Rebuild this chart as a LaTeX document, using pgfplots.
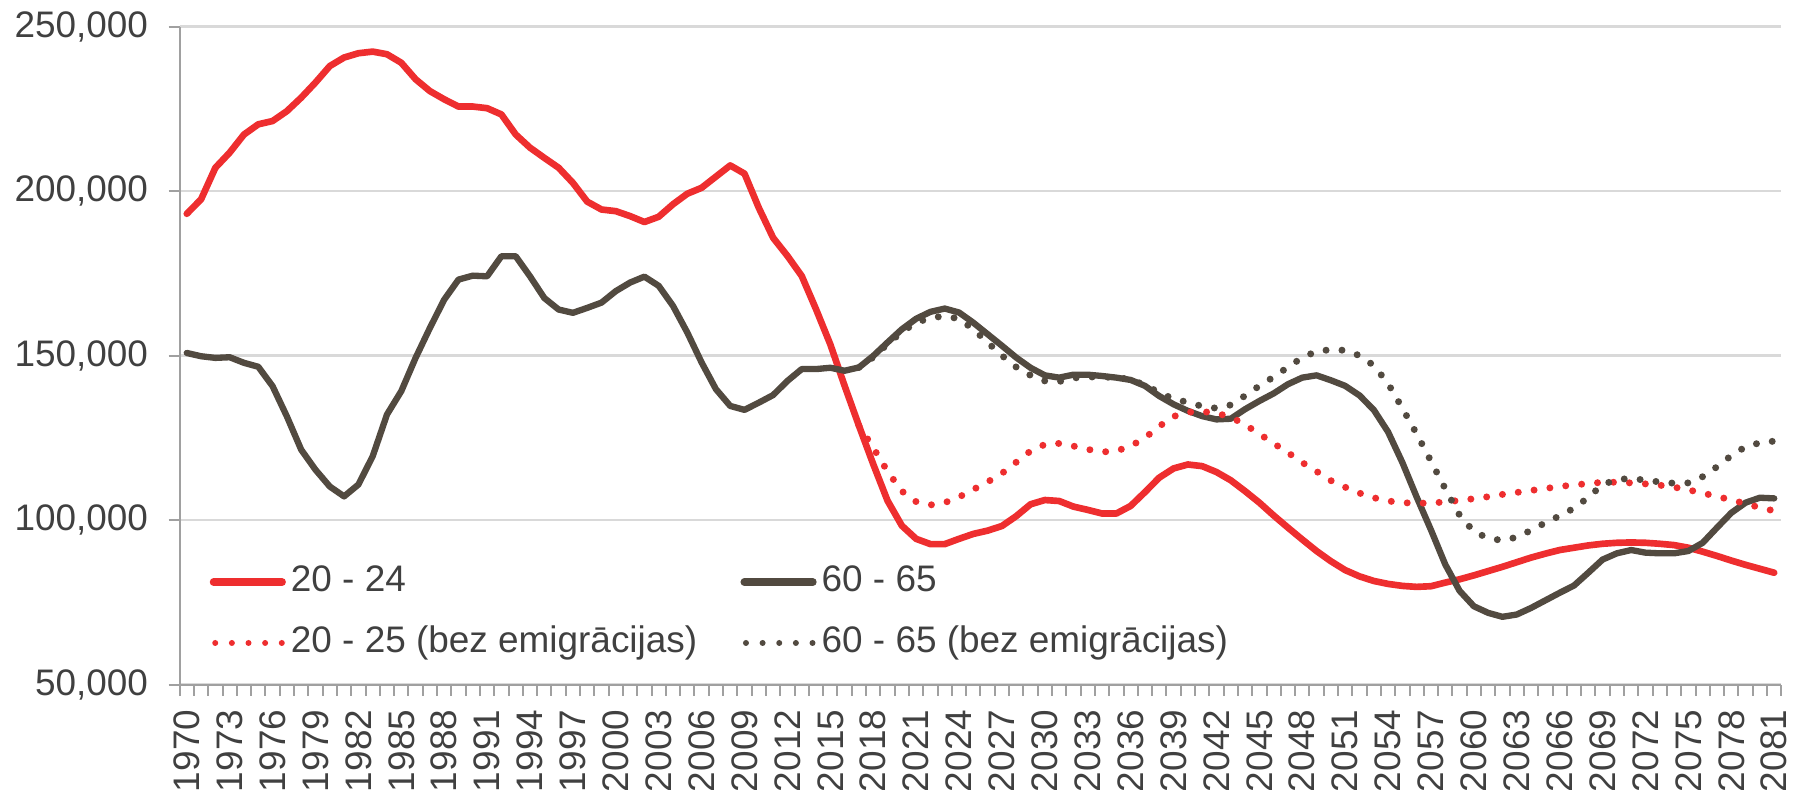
\documentclass[border=0pt]{standalone}
\usepackage{pgfplots}
\pgfplotsset{compat=1.18}
\usepackage{fontspec}
\setmainfont{Liberation Sans}
\definecolor{cred}{RGB}{238,46,47}
\definecolor{cdark}{RGB}{82,74,64}
\definecolor{cgrid}{RGB}{217,217,217}
\definecolor{caxis}{RGB}{160,160,160}
\definecolor{ctext}{RGB}{64,64,64}
\newcommand{\lblfont}{\fontsize{11.1}{13}\selectfont}
\begin{document}
\begin{tikzpicture}
\begin{axis}[
  at={(0,0)}, anchor=south west,
  scale only axis, width=481.5pt, height=197.8pt,
  xmin=1969.5, xmax=2081.5, ymin=50000, ymax=250000,
  axis x line*=bottom, axis y line*=left,
  axis line style={caxis, line width=0.6pt, -},
  tick align=outside,
  major tick length=3.3pt,
  tick style={caxis, line width=0.6pt},
  xtick={1969.5,1970.5,...,2081.5},
  xticklabels={},
  extra x ticks={1970,1973,...,2081},
  extra x tick style={major tick length=0pt},
  ytick={50000,100000,...,250000},
  scaled y ticks=false,
  ymajorgrids, grid style={cgrid, line width=0.75pt},
  /pgf/number format/assume math mode=true,
  tick label style={font=\lblfont, text=ctext, inner sep=0pt},
  xticklabel style={rotate=90, anchor=east, /pgf/number format/1000 sep={}},
  yticklabel style={anchor=east, /pgf/number format/1000 sep={,}, /pgf/number format/fixed},
  xticklabel shift=7.4pt,
  yticklabel shift=6pt,
  legend columns=2,
  legend cell align=left,
  legend style={draw=none, fill=none, inner sep=0pt, font=\lblfont, text=ctext,
    at={(axis cs:1971.56,71900)}, anchor=west,
    nodes={inner sep=0pt, text height=8pt, text depth=2.5pt},
    /tikz/every even column/.append style={column sep=13pt},
    /tikz/every odd column/.append style={column sep=1.5pt},
    row sep=7.8pt},
  legend image code/.code={\draw[#1, line width=2.3pt] (0pt,0pt) -- (20.6pt,0pt);},
  solid/.style={line width=2pt, line join=round, line cap=round},
  dots/.style={line width=2.1pt, line cap=round, dash pattern=on 0pt off 4.8pt},
  dotleg/.style={legend image code/.code={\draw[##1, line width=1.8pt, dash pattern=on 0pt off 5pt] (0.5pt,0pt) -- (20.6pt,0pt);}},
]
\addplot[cred, solid] coordinates {
(1970,193100)(1971,197500)(1972,207100)(1973,211700)(1974,217200)(1975,220300)
(1976,221300)(1977,224300)(1978,228400)(1979,233000)(1980,238000)(1981,240600)
(1982,241900)(1983,242400)(1984,241600)(1985,239000)(1986,234000)(1987,230400)
(1988,227900)(1989,225700)(1990,225700)(1991,225200)(1992,223300)(1993,217200)
(1994,213200)(1995,210100)(1996,207100)(1997,202500)(1998,196800)(1999,194400)
(2000,193900)(2001,192400)(2002,190600)(2003,192200)(2004,196000)(2005,199200)
(2006,201000)(2007,204400)(2008,207800)(2009,205300)(2010,194900)(2011,185800)
(2012,180300)(2013,174200)(2014,164100)(2015,153400)(2016,140800)(2017,128700)
(2018,117000)(2019,105900)(2020,98300)(2021,94300)(2022,92700)(2023,92700)
(2024,94300)(2025,95800)(2026,96800)(2027,98200)(2028,101200)(2029,104800)
(2030,106100)(2031,105800)(2032,104100)(2033,103100)(2034,102000)(2035,102000)
(2036,104300)(2037,108500)(2038,112900)(2039,115700)(2040,116900)(2041,116400)
(2042,114600)(2043,112100)(2044,108800)(2045,105300)(2046,101400)(2047,97700)
(2048,94100)(2049,90600)(2050,87500)(2051,84800)(2052,82900)(2053,81500)
(2054,80600)(2055,80000)(2056,79700)(2057,79900)(2058,81000)(2059,82000)
(2060,83200)(2061,84500)(2062,85800)(2063,87200)(2064,88600)(2065,89800)
(2066,90900)(2067,91600)(2068,92300)(2069,92800)(2070,93100)(2071,93200)
(2072,93100)(2073,92800)(2074,92400)(2075,91600)(2076,90400)(2077,89100)
(2078,87700)(2079,86400)(2080,85200)(2081,84000)
};
\addlegendentry{20 - 24}
\addplot[cdark, solid, line width=1.9pt] coordinates {
(1970,150800)(1971,149800)(1972,149300)(1973,149500)(1974,147800)(1975,146600)
(1976,140700)(1977,131500)(1978,121400)(1979,115300)(1980,110200)(1981,107200)
(1982,110800)(1983,119400)(1984,132100)(1985,139200)(1986,149300)(1987,158400)
(1988,167000)(1989,173100)(1990,174300)(1991,174100)(1992,180200)(1993,180200)
(1994,174100)(1995,167500)(1996,164000)(1997,163000)(1998,164500)(1999,166100)
(2000,169600)(2001,172200)(2002,174000)(2003,171200)(2004,165100)(2005,157000)
(2006,147900)(2007,139800)(2008,134700)(2009,133500)(2010,135700)(2011,138000)
(2012,142300)(2013,145900)(2014,145900)(2015,146300)(2016,145400)(2017,146400)
(2018,149900)(2019,154000)(2020,158000)(2021,161200)(2022,163300)(2023,164300)
(2024,163100)(2025,160000)(2026,156500)(2027,153000)(2028,149400)(2029,146300)
(2030,144000)(2031,143300)(2032,144200)(2033,144200)(2034,143800)(2035,143300)
(2036,142600)(2037,140800)(2038,137700)(2039,135200)(2040,133200)(2041,131600)
(2042,130600)(2043,130800)(2044,133700)(2045,136200)(2046,138500)(2047,141300)
(2048,143300)(2049,144000)(2050,142500)(2051,140800)(2052,137900)(2053,133500)
(2054,126800)(2055,117500)(2056,107000)(2057,97000)(2058,86500)(2059,78500)
(2060,73800)(2061,71800)(2062,70600)(2063,71300)(2064,73300)(2065,75600)
(2066,77900)(2067,80100)(2068,84000)(2069,88000)(2070,89900)(2071,90900)
(2072,90100)(2073,89900)(2074,89900)(2075,90600)(2076,93100)(2077,97700)
(2078,102200)(2079,105300)(2080,106800)(2081,106600)
};
\addlegendentry{60 - 65}
\addplot[cred, dots, dotleg] coordinates {
(2017,128700)(2018,122000)(2019,114800)(2020,108800)(2021,105600)(2022,104600)
(2023,105300)(2024,107000)(2025,109300)(2026,111600)(2027,114200)(2028,117600)
(2029,121000)(2030,123000)(2031,123300)(2032,122500)(2033,121500)(2034,120700)
(2035,121000)(2036,122500)(2037,125000)(2038,128500)(2039,131500)(2040,132800)
(2041,133000)(2042,132500)(2043,131300)(2044,129000)(2045,126200)(2046,123300)
(2047,120500)(2048,117500)(2049,114800)(2050,112000)(2051,110000)(2052,108200)
(2053,106800)(2054,105800)(2055,105300)(2056,105100)(2057,105200)(2058,105500)
(2059,106000)(2060,106500)(2061,107100)(2062,107800)(2063,108400)(2064,109000)
(2065,109600)(2066,110200)(2067,110700)(2068,111100)(2069,111500)(2070,111500)
(2071,111300)(2072,111000)(2073,110600)(2074,110000)(2075,109200)(2076,108200)
(2077,107200)(2078,106100)(2079,105000)(2080,103800)(2081,102800)
};
\addlegendentry{20 - 25 (bez emigrācijas)}
\addplot[cdark, dots, dotleg] coordinates {
(2017,146400)(2018,149500)(2019,153500)(2020,157200)(2021,160000)(2022,161500)
(2023,162000)(2024,161200)(2025,158000)(2026,154000)(2027,150000)(2028,146500)
(2029,144000)(2030,142300)(2031,142100)(2032,143200)(2033,143500)(2034,143500)
(2035,143300)(2036,142800)(2037,141000)(2038,138800)(2039,136800)(2040,135800)
(2041,134600)(2042,134000)(2043,135000)(2044,137800)(2045,140800)(2046,143500)
(2047,146500)(2048,149400)(2049,151300)(2050,151800)(2051,151600)(2052,150000)
(2053,147000)(2054,141500)(2055,134000)(2056,126200)(2057,117900)(2058,109500)
(2059,101500)(2060,96500)(2061,94500)(2062,93800)(2063,94800)(2064,96900)
(2065,99200)(2066,101300)(2067,103600)(2068,106900)(2069,110800)(2070,112300)
(2071,112700)(2072,112100)(2073,111600)(2074,111200)(2075,111300)(2076,113200)
(2077,116200)(2078,119600)(2079,122300)(2080,123500)(2081,124000)
};
\addlegendentry{60 - 65 (bez emigrācijas)}
\end{axis}
\pgfresetboundingbox
\path[use as bounding box] (-54pt,-31.5pt) rectangle (485pt,205.8pt);
\end{tikzpicture}
\end{document}
